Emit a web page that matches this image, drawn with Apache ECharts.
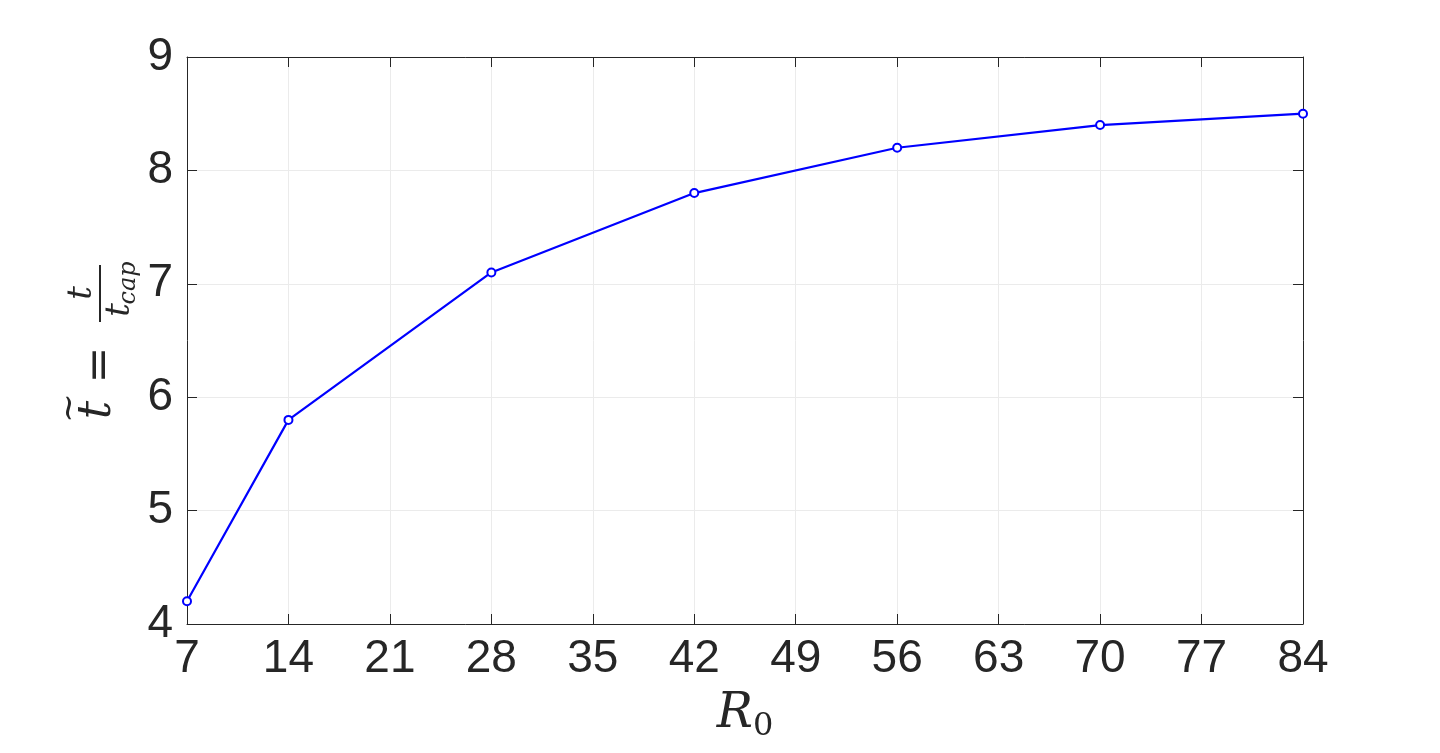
<!DOCTYPE html>
<html>
<head>
<meta charset="utf-8">
<script src="https://cdn.jsdelivr.net/npm/echarts@6/dist/echarts.min.js"></script>
<style>html,body{margin:0;padding:0;background:#fff;}#c{width:1440px;height:753px;}</style>
</head>
<body>
<div id="c"></div>
<script>
var xValues = [7, 14, 28, 42, 56, 70, 84];
var yValues = [4.2, 5.8, 7.1, 7.8, 8.2, 8.4, 8.5];
var xTicks = [7, 14, 21, 28, 35, 42, 49, 56, 63, 70, 77, 84];
var yTicks = [4, 5, 6, 7, 8, 9];

var chart = echarts.init(document.getElementById('c'), null, {renderer: 'canvas'});
var axisColor = '#262626';
var labelFont = {color: '#262626', fontSize: 46, fontFamily: 'Liberation Sans, Arial, sans-serif'};
var serif = 'DejaVu Serif, serif';

var option = {
  backgroundColor: '#fff',
  animation: false,
  grid: {left: 187, right: 137, top: 57, bottom: 129, show: false, containLabel: false, outerBoundsMode: 'none'},
  xAxis: [{
    type: 'value', min: 7, max: 84, interval: 7,
    axisLine: {show: true, lineStyle: {color: axisColor, width: 1}},
    axisTick: {show: true, inside: true, length: 10, lineStyle: {color: axisColor}},
    axisLabel: Object.assign({margin: 12, formatter: function (v) { return xTicks.indexOf(v) >= 0 ? String(v) : ''; }}, labelFont),
    splitLine: {show: true, lineStyle: {color: '#ebebeb', width: 1}},
    name: '{r|R}{s|0}',
    nameLocation: 'middle',
    nameGap: 63,
    nameTextStyle: {
      rich: {
        r: {fontFamily: serif, fontStyle: 'italic', fontSize: 48, color: '#262626', lineHeight: 56},
        s: {fontFamily: serif, fontSize: 32, color: '#262626', lineHeight: 56, verticalAlign: 'bottom', padding: [18, 0, 0, 0]}
      }
    }
  }, {
    type: 'value', min: 7, max: 84, interval: 7, position: 'top',
    axisLine: {show: true, lineStyle: {color: axisColor, width: 1}},
    axisTick: {show: true, inside: true, length: 10, lineStyle: {color: axisColor}},
    axisLabel: {show: false}, splitLine: {show: false}
  }],
  yAxis: [{
    type: 'value', min: 4, max: 9, interval: 1,
    axisLine: {show: true, lineStyle: {color: axisColor, width: 1}},
    axisTick: {show: true, inside: true, length: 10, lineStyle: {color: axisColor}},
    axisLabel: Object.assign({margin: 14, formatter: function (v) { return yTicks.indexOf(v) >= 0 ? String(v) : ''; }}, labelFont),
    splitLine: {show: true, lineStyle: {color: '#ebebeb', width: 1}}
  }, {
    type: 'value', min: 4, max: 9, interval: 1, position: 'right',
    axisLine: {show: true, lineStyle: {color: axisColor, width: 1}},
    axisTick: {show: true, inside: true, length: 10, lineStyle: {color: axisColor}},
    axisLabel: {show: false}, splitLine: {show: false}
  }],
  series: [{
    type: 'line',
    data: xValues.map(function (x, i) { return [x, yValues[i]]; }),
    symbol: 'emptyCircle',
    symbolSize: 8,
    lineStyle: {color: '#0000ff', width: 2.2},
    itemStyle: {color: '#0000ff', borderWidth: 2.5, borderColor: '#0000ff'},
    z: 5
  }],
  graphic: [{
    type: 'group',
    x: 100, y: 340,
    rotation: Math.PI / 2,
    children: [
      {type: 'text', x: -70, y: -2, style: {text: 't', font: 'italic 46px ' + serif, fill: '#262626', align: 'center', verticalAlign: 'middle'}},
      {type: 'text', x: -68, y: -30, style: {text: '~', font: '36px ' + serif, fill: '#262626', align: 'center', verticalAlign: 'middle'}},
      {type: 'text', x: -25, y: 2, style: {text: '=', font: '44px ' + serif, fill: '#262626', align: 'center', verticalAlign: 'middle'}},
      {type: 'line', shape: {x1: 18, y1: 0, x2: 75, y2: 0}, style: {stroke: '#262626', lineWidth: 2}},
      {type: 'text', x: 47, y: -18, style: {text: 't', font: 'italic 34px ' + serif, fill: '#262626', align: 'center', verticalAlign: 'middle'}},
      {type: 'text', x: 30, y: 20, style: {text: 't', font: 'italic 34px ' + serif, fill: '#262626', align: 'center', verticalAlign: 'middle'}},
      {type: 'text', x: 57, y: 29, style: {text: 'cap', font: 'italic 24px ' + serif, fill: '#262626', align: 'center', verticalAlign: 'middle'}}
    ]
  }]
};
chart.setOption(option);
</script>
</body>
</html>
